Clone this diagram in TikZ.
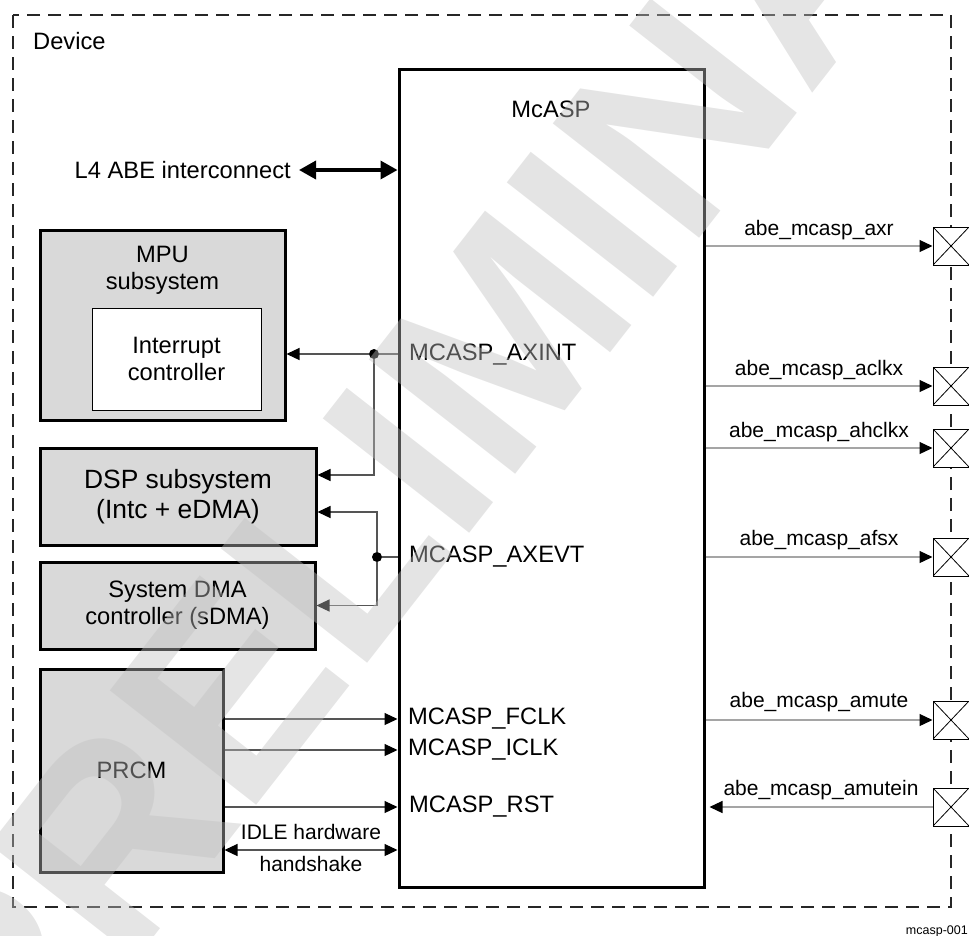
\documentclass[tikz,border=0pt]{standalone}
\usepackage{fontspec}
\setmainfont{Liberation Sans}
\usepackage{tikz}
\usetikzlibrary{arrows.meta, positioning, calc}
\definecolor{boxgray}{RGB}{217,217,217}
\definecolor{wiregray}{RGB}{85,85,85}
\definecolor{padgray}{RGB}{165,165,165}
\definecolor{markgray}{RGB}{192,192,192}
\newcommand{\lblfont}{\fontsize{23.7}{27}\selectfont}
\newcommand{\sigfont}{\fontsize{21}{25}\selectfont}
\tikzset{
  frame/.style={draw=black!85, line width=1.8pt, dash pattern=on 13pt off 8pt},
  subsys/.style={rectangle, draw, line width=3pt, fill=boxgray, align=center,
    font=\lblfont, inner sep=0pt},
  intcbox/.style={rectangle, draw, line width=1pt, fill=white, align=center,
    font=\lblfont, inner sep=0pt},
  mcaspbox/.style={rectangle, draw, line width=3pt, fill=white,
    minimum width=305pt, minimum height=818pt},
  port/.style={font=\lblfont, anchor=west, inner sep=0pt},
  pad/.style={rectangle, draw, line width=1pt, fill=white, minimum width=36pt,
    minimum height=38pt, inner sep=0pt,
    path picture={\draw[line width=0.8pt]
      (path picture bounding box.north west) -- (path picture bounding box.south east)
      (path picture bounding box.south west) -- (path picture bounding box.north east);}},
  sig/.style={draw=wiregray, line width=1.2pt},
  pinsig/.style={draw=padgray, line width=1.2pt},
  arr/.style={-{Triangle[length=13pt, width=12pt, color=black]}},
  dblarr/.style={{Triangle[length=13pt, width=12pt, color=black]}-{Triangle[length=13pt, width=12pt, color=black]}},
  busarr/.style={{Triangle[length=17pt, width=18pt]}-{Triangle[length=17pt, width=18pt]}, line width=3.5pt},
  junction/.style={circle, fill=black, inner sep=0pt, minimum size=10pt},
}

\begin{document}
\begin{tikzpicture}[x=1pt, y=-1pt]
  \useasboundingbox (0,0) rectangle (969,935);

  % device border
  \draw[frame] (13,15) rectangle (951,907);
  \node[font=\lblfont, anchor=west, inner sep=0pt] (device) at (33,41) {Device};

  % blocks
  \node[mcaspbox] (mcasp) at (551.5,478) {};
  \node[font=\lblfont] (mcasptitle) at (551,109) {McASP};
  \node[subsys, minimum width=245pt, minimum height=190pt] (mpu) at (162.5,325) {};
  \node[font=\lblfont, align=center] (mputitle) at (162.5,270) {MPU\\subsystem};
  \node[intcbox, minimum width=169pt, minimum height=102pt] (intc) at (176.5,359) {Interrupt\\controller};
  \node[subsys, minimum width=276pt, minimum height=97pt,
    font=\fontsize{26.4}{30}\selectfont] (dsp) at (178,496.5) {DSP subsystem\\(Intc + eDMA)};
  \node[subsys, minimum width=275pt, minimum height=87pt] (sdma) at (177.5,605.5) {System DMA\\controller (sDMA)};
  \node[subsys, minimum width=183pt, minimum height=203pt] (prcm) at (131.5,770.5) {PRCM};

  % ports of the McASP
  \node[port] (axint) at (409,355) {MCASP\_AXINT};
  \node[port] (axevt) at (409,557) {MCASP\_AXEVT};
  \node[port] (fclk) at (408,719) {MCASP\_FCLK};
  \node[port] (iclk) at (408,750) {MCASP\_ICLK};
  \node[port] (rst) at (409,807) {MCASP\_RST};

  % interconnect
  \node[font=\lblfont, anchor=east, inner sep=0pt] (l4) at (291,170) {L4 ABE interconnect};
  \draw[busarr] ([xshift=8pt]l4.east) -- (l4.east -| mcasp.west);

  % interrupt and dma requests
  \node[junction] (intdot) at (374,354) {};
  \node[junction] (evtdot) at (377,557) {};
  \draw[sig] (mcasp.west |- intdot) -- (intdot);
  \draw[sig, arr] (intdot) -- (intdot -| mpu.east);
  \draw[sig, arr] (intdot) |- ([yshift=21.5pt]dsp.east);
  \draw[sig] (mcasp.west |- evtdot) -- (evtdot);
  \draw[sig, arr] (evtdot) |- ([yshift=-15.5pt]dsp.east);
  \draw[sig, arr] (evtdot) |- (sdma.east);

  % clocks and reset
  \draw[sig, arr] (prcm.east |- fclk) -- (fclk -| mcasp.west);
  \draw[sig, arr] (prcm.east |- iclk) -- (iclk -| mcasp.west);
  \draw[sig, arr] (prcm.east |- rst) -- (rst -| mcasp.west);
  \coordinate (idle) at ([yshift=-79.5pt]prcm.east);
  \draw[sig, dblarr] (idle) -- (idle -| mcasp.west)
    node[midway, above=6pt, font=\sigfont] {IDLE hardware}
    node[midway, below=2pt, font=\sigfont] {handshake};

  % pads
  \node[pad] (axrpad) at (951,246) {};
  \node[pad] (aclkxpad) at (951,386) {};
  \node[pad] (ahclkxpad) at (951,448) {};
  \node[pad] (afsxpad) at (951,557) {};
  \node[pad] (amutepad) at (951,720) {};
  \node[pad] (amuteinpad) at (951,807) {};
  \draw[pinsig, arr] (mcasp.east |- axrpad) -- (axrpad.west)
    node[midway, above=2pt, font=\sigfont] {abe\_mcasp\_axr};
  \draw[pinsig, arr] (mcasp.east |- aclkxpad) -- (aclkxpad.west)
    node[midway, above=2pt, font=\sigfont] {abe\_mcasp\_aclkx};
  \draw[pinsig, arr] (mcasp.east |- ahclkxpad) -- (ahclkxpad.west)
    node[midway, above=2pt, font=\sigfont] {abe\_mcasp\_ahclkx};
  \draw[pinsig, arr] (mcasp.east |- afsxpad) -- (afsxpad.west)
    node[midway, above=3pt, font=\sigfont] {abe\_mcasp\_afsx};
  \draw[pinsig, arr] (mcasp.east |- amutepad) -- (amutepad.west)
    node[midway, above=4pt, font=\sigfont] {abe\_mcasp\_amute};
  \draw[pinsig, arr] (amuteinpad.west) -- ([xshift=4pt]mcasp.east |- amuteinpad)
    node[midway, above=3pt, font=\sigfont] {abe\_mcasp\_amutein};

  \node[font=\fontsize{12.5}{14}\selectfont, anchor=base east, inner sep=0pt] (figid) at (968,934) {mcasp-001};

  % watermark
  \node[rotate=52, font=\fontsize{270}{270}\selectfont\bfseries, text=markgray,
    text opacity=0.42] (watermark) at (511,329) {PRELIMINARY};
\end{tikzpicture}
\end{document}
